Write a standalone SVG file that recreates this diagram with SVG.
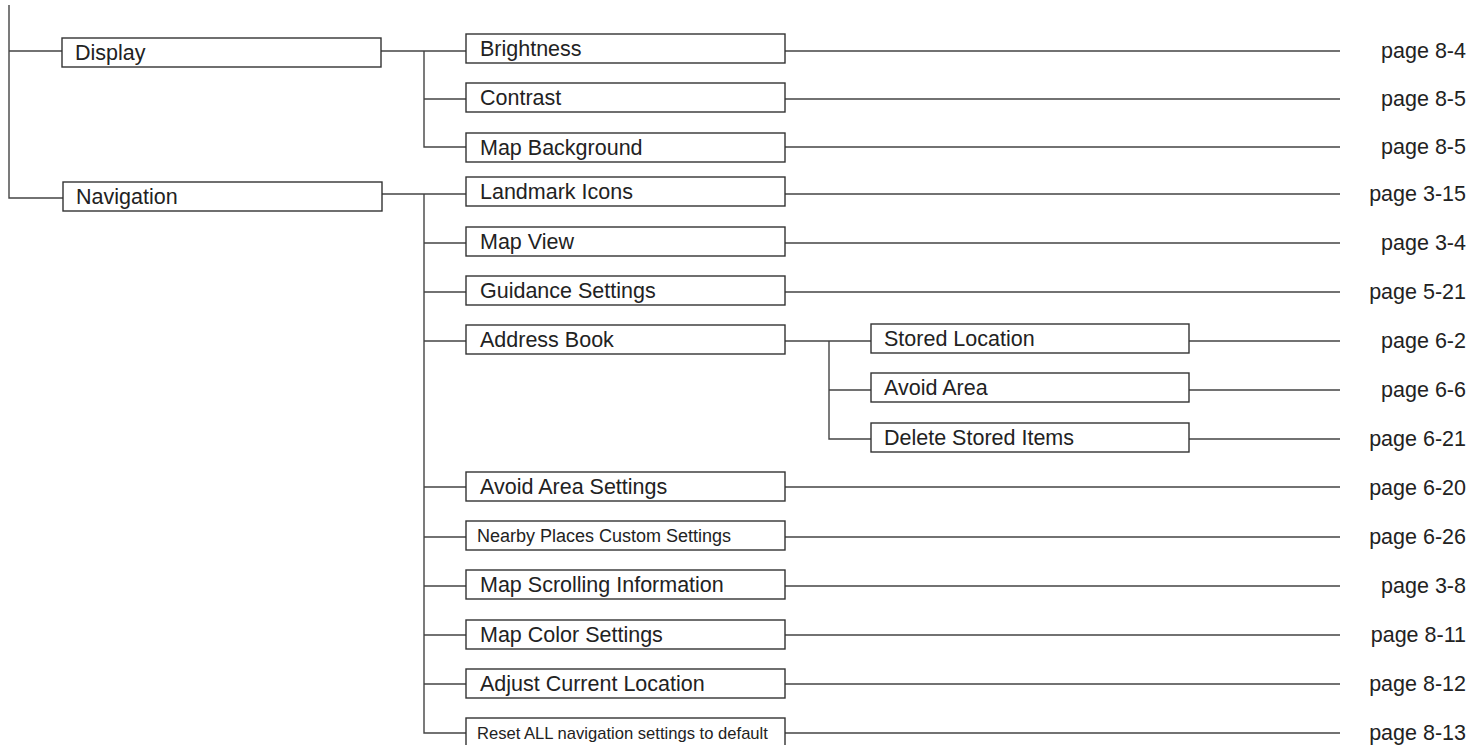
<svg xmlns="http://www.w3.org/2000/svg" width="1479" height="745" viewBox="0 0 1479 745">
<style>
.box{fill:#fff;stroke:#333;stroke-width:1.4}
.ln{fill:none;stroke:#444;stroke-width:1.4}
.t{font-family:"Liberation Sans",Arial,sans-serif;font-size:21.5px;fill:#222}
.s{font-family:"Liberation Sans",Arial,sans-serif;font-size:18px;fill:#222}
.x{font-family:"Liberation Sans",Arial,sans-serif;font-size:16.6px;fill:#222}
.p{font-family:"Liberation Sans",Arial,sans-serif;font-size:21.5px;fill:#222;text-anchor:end}
</style>
<rect width="1479" height="745" fill="#fff"/>
<g id="connectors">
<path class="ln" d="M9 5V198H63M9 51H62"/>
<path class="ln" d="M381 51H466M424 51V147H466M424 99H466"/>
<path class="ln" d="M382 194H466M424 194V733H466M424 243H466M424 292H466M424 341H466M424 487H466M424 537H466M424 586H466M424 635H466M424 684H466"/>
<path class="ln" d="M785 341H871M829 341V439H871M829 390H871"/>
<path class="ln" d="M785 51H1340M785 99H1340M785 147H1340M785 194H1340M785 243H1340M785 292H1340M1189 341H1340M1189 390H1340M1189 439H1340M785 487H1340M785 537H1340M785 586H1340M785 635H1340M785 684H1340M785 733H1340"/>
</g>
<g id="display"><rect class="box" x="62" y="38" width="319" height="29"/><text class="t" x="75" y="60">Display</text></g>
<g id="navigation"><rect class="box" x="63" y="182" width="319" height="29"/><text class="t" x="76" y="204">Navigation</text></g>
<g id="brightness"><rect class="box" x="466" y="34" width="319" height="29"/><text class="t" x="480" y="56">Brightness</text><text class="p" x="1466" y="58">page 8-4</text></g>
<g id="contrast"><rect class="box" x="466" y="83" width="319" height="29"/><text class="t" x="480" y="105">Contrast</text><text class="p" x="1466" y="106">page 8-5</text></g>
<g id="map-background"><rect class="box" x="466" y="133" width="319" height="29"/><text class="t" x="480" y="155">Map Background</text><text class="p" x="1466" y="154">page 8-5</text></g>
<g id="landmark-icons"><rect class="box" x="466" y="177" width="319" height="29"/><text class="t" x="480" y="199">Landmark Icons</text><text class="p" x="1466" y="201">page 3-15</text></g>
<g id="map-view"><rect class="box" x="466" y="227" width="319" height="29"/><text class="t" x="480" y="249">Map View</text><text class="p" x="1466" y="250">page 3-4</text></g>
<g id="guidance-settings"><rect class="box" x="466" y="276" width="319" height="29"/><text class="t" x="480" y="298">Guidance Settings</text><text class="p" x="1466" y="299">page 5-21</text></g>
<g id="address-book"><rect class="box" x="466" y="325" width="319" height="29"/><text class="t" x="480" y="347">Address Book</text></g>
<g id="stored-location"><rect class="box" x="871" y="324" width="318" height="29"/><text class="t" x="884" y="346">Stored Location</text><text class="p" x="1466" y="348">page 6-2</text></g>
<g id="avoid-area"><rect class="box" x="871" y="373" width="318" height="29"/><text class="t" x="884" y="395">Avoid Area</text><text class="p" x="1466" y="397">page 6-6</text></g>
<g id="delete-stored-items"><rect class="box" x="871" y="423" width="318" height="29"/><text class="t" x="884" y="445">Delete Stored Items</text><text class="p" x="1466" y="446">page 6-21</text></g>
<g id="avoid-area-settings"><rect class="box" x="466" y="472" width="319" height="29"/><text class="t" x="480" y="494">Avoid Area Settings</text><text class="p" x="1466" y="495">page 6-20</text></g>
<g id="nearby-places"><rect class="box" x="466" y="521" width="319" height="29"/><text class="s" x="477" y="542">Nearby Places Custom Settings</text><text class="p" x="1466" y="544">page 6-26</text></g>
<g id="map-scrolling"><rect class="box" x="466" y="570" width="319" height="29"/><text class="t" x="480" y="592">Map Scrolling Information</text><text class="p" x="1466" y="593">page 3-8</text></g>
<g id="map-color"><rect class="box" x="466" y="620" width="319" height="29"/><text class="t" x="480" y="642">Map Color Settings</text><text class="p" x="1466" y="642">page 8-11</text></g>
<g id="adjust-location"><rect class="box" x="466" y="669" width="319" height="29"/><text class="t" x="480" y="691">Adjust Current Location</text><text class="p" x="1466" y="691">page 8-12</text></g>
<g id="reset-all"><rect class="box" x="466" y="718" width="319" height="29"/><text class="x" x="477" y="739">Reset ALL navigation settings to default</text><text class="p" x="1466" y="740">page 8-13</text></g>
</svg>
